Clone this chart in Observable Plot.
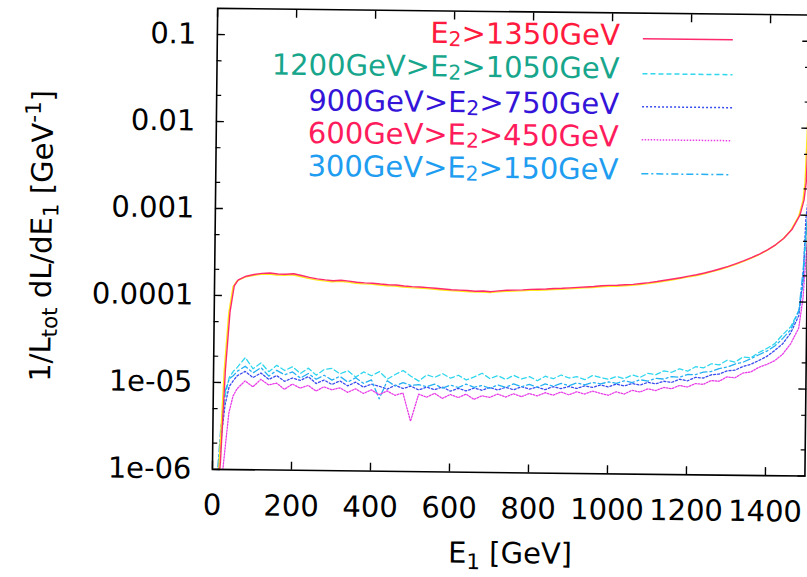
<!DOCTYPE html>
<html><head><meta charset="utf-8">
<script src="https://cdn.jsdelivr.net/npm/d3@7"></script>
<script src="https://cdn.jsdelivr.net/npm/@observablehq/plot@0.6"></script>
<style>
html,body{margin:0;padding:0;background:#fff;}
#wrap{position:relative;width:807px;height:577px;overflow:hidden;background:#fff;}
#inner{position:absolute;left:0;top:0;width:807px;height:577px;transform:rotate(0.65deg);transform-origin:403.5px 288.5px;}
#inner svg{position:absolute;left:0;top:0;overflow:visible;}
</style></head><body>
<div id="wrap"><div id="inner"></div></div>
<script>
// ---------- data ----------
const E1 = [
  0, 10, 20, 30, 40, 50, 60,
  80, 100, 120, 140, 160, 180, 200, 220, 240, 260,
  280, 300, 320, 340, 360, 380, 400, 420, 440, 460,
  480, 500, 520, 540, 560, 580, 600, 620, 640, 660,
  680, 700, 720, 740, 760, 780, 800, 820, 840, 860,
  880, 900, 920, 940, 960, 980, 1000, 1020, 1040, 1060,
  1080, 1100, 1120, 1140, 1160, 1180, 1200, 1220, 1240, 1260,
  1280, 1300, 1320, 1340, 1360, 1380, 1400, 1420, 1440, 1460,
  1480, 1490, 1495, 1500
];
const seriesLabels = ["E_{2}>1350GeV", "1200GeV>E_{2}>1050GeV", "900GeV>E_{2}>750GeV", "600GeV>E_{2}>450GeV", "300GeV>E_{2}>150GeV"];
const dL_E2_above1350 = [
  1e-7, 3e-7, 1.2e-6, 1.4e-5, 6.5e-5, 1.3e-4, 1.52e-4,
  1.68e-4, 1.76e-4, 1.82e-4, 1.84e-4, 1.8e-4, 1.79e-4, 1.82e-4, 1.74e-4, 1.66e-4, 1.6e-4,
  1.56e-4, 1.53e-4, 1.55e-4, 1.52e-4, 1.48e-4, 1.46e-4, 1.45e-4, 1.42e-4, 1.4e-4, 1.39e-4,
  1.36e-4, 1.34e-4, 1.33e-4, 1.31e-4, 1.29e-4, 1.27e-4, 1.25e-4, 1.24e-4, 1.23e-4, 1.21e-4,
  1.22e-4, 1.2e-4, 1.23e-4, 1.25e-4, 1.26e-4, 1.27e-4, 1.29e-4, 1.3e-4, 1.31e-4, 1.33e-4,
  1.34e-4, 1.36e-4, 1.38e-4, 1.4e-4, 1.42e-4, 1.45e-4, 1.47e-4, 1.48e-4, 1.5e-4, 1.52e-4,
  1.56e-4, 1.6e-4, 1.65e-4, 1.71e-4, 1.77e-4, 1.84e-4, 1.92e-4, 2.0e-4, 2.1e-4, 2.22e-4,
  2.36e-4, 2.52e-4, 2.72e-4, 2.95e-4, 3.22e-4, 3.55e-4, 3.98e-4, 4.55e-4, 5.4e-4, 6.8e-4,
  1.0e-3, 1.5e-3, 2.4e-3, 1.27e-2
];
const dL_E2_1050_1200 = [
  1e-7, 4e-7, 2.5e-6, 7e-6, 1.15e-5, 1.35e-5, 1.5e-5,
  1.95e-5, 1.45e-5, 1.7e-5, 1.35e-5, 1.6e-5, 1.4e-5, 1.55e-5, 1.3e-5, 1.5e-5, 1.25e-5,
  1.45e-5, 1.5e-5, 1.3e-5, 1.42e-5, 1.2e-5, 1.38e-5, 1.25e-5, 1.4e-5, 1.15e-5, 1.3e-5,
  1.45e-5, 1.25e-5, 1.1e-5, 1.3e-5, 1.22e-5, 1.35e-5, 1.2e-5, 1.3e-5, 1.15e-5, 1.25e-5,
  1.38e-5, 1.2e-5, 1.3e-5, 1.18e-5, 1.32e-5, 1.2e-5, 1.28e-5, 1.15e-5, 1.3e-5, 1.22e-5,
  1.35e-5, 1.25e-5, 1.3e-5, 1.2e-5, 1.35e-5, 1.28e-5, 1.22e-5, 1.32e-5, 1.25e-5, 1.38e-5,
  1.3e-5, 1.45e-5, 1.4e-5, 1.55e-5, 1.5e-5, 1.65e-5, 1.55e-5, 1.75e-5, 1.7e-5, 1.9e-5,
  1.85e-5, 2.1e-5, 2.0e-5, 2.3e-5, 2.25e-5, 2.6e-5, 2.9e-5, 3.3e-5, 4.2e-5, 5.2e-5,
  8e-5, 1.6e-4, 5e-4, 1.2e-3
];
const dL_E2_750_900 = [
  1e-7, 5e-7, 2e-6, 5.5e-6, 9e-6, 1.05e-5, 1.2e-5,
  1.35e-5, 1.15e-5, 1.3e-5, 1.1e-5, 1.22e-5, 1.05e-5, 1.15e-5, 1.08e-5, 1.2e-5, 1.0e-5,
  1.1e-5, 9.8e-6, 1.08e-5, 9.5e-6, 1.05e-5, 9.2e-6, 1.0e-5, 9.5e-6, 8.8e-6, 9.8e-6,
  9.0e-6, 9.6e-6, 8.7e-6, 9.4e-6, 8.8e-6, 9.5e-6, 8.5e-6, 9.2e-6, 8.6e-6, 9.3e-6,
  8.8e-6, 9.5e-6, 8.9e-6, 9.6e-6, 9.0e-6, 9.8e-6, 9.2e-6, 9.7e-6, 9.1e-6, 9.9e-6,
  9.4e-6, 1.0e-5, 9.5e-6, 1.02e-5, 9.8e-6, 1.05e-5, 1.0e-5, 1.08e-5, 1.03e-5, 1.1e-5,
  1.06e-5, 1.14e-5, 1.1e-5, 1.18e-5, 1.15e-5, 1.25e-5, 1.2e-5, 1.32e-5, 1.3e-5, 1.42e-5,
  1.45e-5, 1.58e-5, 1.62e-5, 1.78e-5, 1.9e-5, 2.1e-5, 2.35e-5, 2.75e-5, 3.3e-5, 4.4e-5,
  7e-5, 2e-4, 9e-4, 1.5e-3
];
const dL_E2_450_600 = [
  1e-7, 2e-7, 5e-7, 1.5e-6, 4.5e-6, 7e-6, 8.5e-6,
  1.05e-5, 9e-6, 1.1e-5, 9.5e-6, 1.0e-5, 8.5e-6, 9.8e-6, 8.8e-6, 9.5e-6, 8.2e-6,
  9.2e-6, 8.5e-6, 9.0e-6, 8.0e-6, 8.8e-6, 7.8e-6, 8.6e-6, 7.6e-6, 8.4e-6, 7.5e-6,
  8.0e-6, 3.8e-6, 7.8e-6, 7.2e-6, 8.0e-6, 7.0e-6, 7.8e-6, 7.2e-6, 7.9e-6, 6.9e-6,
  7.6e-6, 7.3e-6, 8.0e-6, 7.4e-6, 8.1e-6, 7.5e-6, 8.2e-6, 7.7e-6, 8.4e-6, 7.9e-6,
  8.6e-6, 8.0e-6, 8.7e-6, 8.2e-6, 8.9e-6, 8.4e-6, 8.0e-6, 8.8e-6, 8.3e-6, 9.2e-6,
  8.8e-6, 9.6e-6, 9.2e-6, 1.0e-5, 9.7e-6, 1.06e-5, 1.02e-5, 1.12e-5, 1.1e-5, 1.22e-5,
  1.2e-5, 1.35e-5, 1.32e-5, 1.5e-5, 1.55e-5, 1.75e-5, 1.9e-5, 2.1e-5, 2.5e-5, 3.3e-5,
  5e-5, 1.1e-4, 2.5e-4, 5e-4
];
const dL_E2_150_300 = [
  1e-7, 6e-7, 3e-6, 8e-6, 1.1e-5, 1.2e-5, 1.35e-5,
  1.55e-5, 1.3e-5, 1.5e-5, 1.2e-5, 1.4e-5, 1.25e-5, 1.35e-5, 1.15e-5, 1.3e-5, 1.12e-5,
  1.25e-5, 1.1e-5, 1.22e-5, 1.05e-5, 1.18e-5, 1.02e-5, 1.12e-5, 6.8e-6, 1.1e-5, 9.6e-6,
  1.05e-5, 9.8e-6, 1.0e-5, 9.5e-6, 1.02e-5, 9.2e-6, 1.0e-5, 9.4e-6, 1.03e-5, 9.5e-6,
  1.0e-5, 9.3e-6, 1.02e-5, 9.6e-6, 1.05e-5, 9.8e-6, 1.04e-5, 9.7e-6, 1.06e-5, 1.0e-5,
  1.08e-5, 1.02e-5, 1.1e-5, 1.05e-5, 1.12e-5, 1.08e-5, 1.14e-5, 1.1e-5, 1.18e-5, 1.13e-5,
  1.22e-5, 1.18e-5, 1.27e-5, 1.25e-5, 1.34e-5, 1.32e-5, 1.42e-5, 1.42e-5, 1.52e-5, 1.55e-5,
  1.68e-5, 1.75e-5, 1.9e-5, 2.0e-5, 2.2e-5, 2.45e-5, 2.7e-5, 3.1e-5, 3.8e-5, 4.8e-5,
  8e-5, 2.5e-4, 6e-4, 1.0e-3
];
const xTicks = [0, 200, 400, 600, 800, 1000, 1200, 1400];
const yTicks = [1e-6, 1e-5, 1e-4, 1e-3, 1e-2, 1e-1];
const yTickLabels = ["1e-06", "1e-05", "0.0001", "0.001", "0.01", "0.1"];
const yMinorTicks = [2e-6, 5e-6, 2e-5, 5e-5, 2e-4, 5e-4, 2e-3, 5e-3, 2e-2, 5e-2];
const xTitle = "E_{1} [GeV]";
const yTitle = "1/L_{tot} dL/dE_{1} [GeV^{-1}]";

// ---------- styles ----------
const seriesValues = [dL_E2_above1350, dL_E2_1050_1200, dL_E2_750_900, dL_E2_450_600, dL_E2_150_300];
const lineColors = ["#ff2a6e", "#2ed6ee", "#3a4cee", "#e83ee8", "#24b0f2"];
const textColors = ["#ff1a3e", "#17a68c", "#3414d8", "#ff1c5c", "#1f9df0"];
const dashes = [null, "5,3", "2,2", "1.5,1.5", "7,3,2,3"];
const FONT = "'DejaVu Sans', Verdana, sans-serif";

const rows = seriesValues.flatMap((vals, si) => E1.map((e, i) => ({E1: e, v: vals[i], s: si})));
const rowsOf = (si) => rows.filter(r => r.s === si);

const marks = [];
for (const si of [1, 2, 4, 3]) {
  marks.push(Plot.line(rowsOf(si), {x: "E1", y: "v", stroke: lineColors[si], strokeWidth: 1.3, strokeDasharray: dashes[si], clip: true}));
}
marks.push(Plot.line(rowsOf(0), {x: "E1", y: "v", stroke: "#ffe81a", strokeWidth: 1.4, dx: -1.2, dy: 1, clip: true}));
marks.push(Plot.line(rowsOf(0), {x: "E1", y: "v", stroke: lineColors[0], strokeWidth: 1.4, clip: true}));

const blank = () => "";
marks.push(
  Plot.axisX({ticks: xTicks, tickSize: 0, tickPadding: 25, tickFormat: d => String(d), label: null, fontSize: 29}),
  Plot.axisX({ticks: xTicks, tickSize: -8, tickFormat: blank, label: null, strokeWidth: 1.4}),
  Plot.axisX({anchor: "top", ticks: xTicks, tickSize: -8, tickFormat: blank, label: null, strokeWidth: 1.4}),
  Plot.axisY({ticks: yTicks, tickSize: 0, tickPadding: 21, tickFormat: d => yTickLabels[yTicks.indexOf(d)], label: null, fontSize: 29}),
  Plot.axisY({ticks: yTicks, tickSize: -8, tickFormat: blank, label: null, strokeWidth: 1.4}),
  Plot.axisY({ticks: yMinorTicks, tickSize: -5, tickFormat: blank, label: null, strokeWidth: 1.2}),
  Plot.axisY({anchor: "right", ticks: yTicks, tickSize: -8, tickFormat: blank, label: null, strokeWidth: 1.4}),
  Plot.axisY({anchor: "right", ticks: yMinorTicks, tickSize: -5, tickFormat: blank, label: null, strokeWidth: 1.2}),
  Plot.frame({stroke: "#000", strokeWidth: 1.6})
);

const chart = Plot.plot({
  width: 807, height: 577,
  marginLeft: 214, marginRight: 0.5, marginTop: 10, marginBottom: 106,
  style: {fontFamily: FONT, fontSize: "29px", background: "transparent", color: "#000"},
  x: {domain: [0, 1500]},
  y: {type: "log", domain: [1e-6, 0.2]},
  marks
});
const inner = document.getElementById("inner");
inner.appendChild(chart);

// ---------- overlay: titles and legend (rich text with sub/superscripts) ----------
function rich(sel, str, fs, subShift = 0.22, subSize = 0.74) {
  const re = /([_^])\{([^}]*)\}/g;
  let last = 0, m, shift = 0;
  const put = (txt, dy, size) => {
    if (!txt) return;
    const t = sel.append("tspan").text(txt).attr("font-size", size);
    if (dy) t.attr("dy", dy);
  };
  while ((m = re.exec(str))) {
    put(str.slice(last, m.index), -shift || null, fs); shift = 0;
    const d = m[1] === "_" ? subShift * fs : -0.42 * fs;
    sel.append("tspan").text(m[2]).attr("font-size", subSize * fs).attr("dy", d);
    shift = d;
    last = re.lastIndex;
  }
  const rest = str.slice(last);
  if (rest) { sel.append("tspan").text(rest).attr("font-size", fs).attr("dy", -shift || null); }
  else if (shift) { sel.append("tspan").text("\u200b").attr("dy", -shift); }
}
const ov = d3.create("svg").attr("width", 807).attr("height", 577)
  .style("font-family", FONT).style("pointer-events", "none");

// axis titles
const xt = ov.append("text").attr("x", 513).attr("y", 562).attr("text-anchor", "middle").attr("fill", "#000");
rich(xt, xTitle, 29);
const yt = ov.append("text").attr("text-anchor", "middle").attr("fill", "#000")
  .attr("transform", "translate(51,240) rotate(-90)");
rich(yt, yTitle, 29);

// legend
const legBase = [42.5, 76, 111.5, 144, 177];
const legLineY = [36, 71, 104, 137, 171];
seriesLabels.forEach((lab, i) => {
  const t = ov.append("text").attr("x", 617).attr("y", legBase[i]).attr("text-anchor", "end")
    .attr("fill", textColors[i]);
  rich(t, lab, 29, 0.1, 0.7);
  ov.append("line").attr("x1", 640).attr("x2", 730).attr("y1", legLineY[i]).attr("y2", legLineY[i])
    .attr("stroke", lineColors[i]).attr("stroke-width", 1.5)
    .attr("stroke-dasharray", dashes[i]);
});
inner.appendChild(ov.node());
</script>
</body></html>
